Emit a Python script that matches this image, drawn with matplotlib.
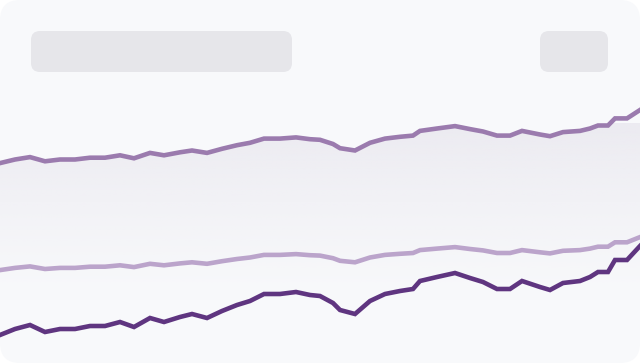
import numpy as np
import matplotlib
matplotlib.use("Agg")
import matplotlib.pyplot as plt
from matplotlib.patches import FancyBboxPatch
from matplotlib.colors import to_rgb

# sample days and the three series (skeleton sparkline)
days = [0, 15, 30, 45, 60, 75, 90, 105, 120, 134, 150, 164, 180, 192, 207, 222,
        237, 250, 264, 280, 296, 310, 320, 333, 340, 355, 370, 385, 400, 413, 420,
        437, 455, 470, 483, 497, 510, 522, 540, 550, 563, 580, 590, 598, 608, 615,
        627, 640]
upper = [199.9, 203.5, 205.9, 201.7, 203.5, 203.5, 205.3, 205.3, 207.7, 204.7,
         210.1, 207.7, 210.7, 212.5, 210.1, 214.2, 217.8, 220.2, 224.4, 224.4,
         225.6, 223.8, 223.2, 219.0, 214.8, 212.5, 220.2, 224.4, 226.2, 227.4,
         232.1, 234.5, 236.9, 233.9, 231.5, 227.4, 227.4, 232.1, 228.5, 226.8,
         230.9, 232.1, 234.5, 237.5, 237.5, 244.6, 244.6, 253.0]
middle = [92.9, 95.1, 96.6, 94.0, 95.1, 95.1, 96.3, 96.3, 97.7, 95.9, 99.2, 97.7,
          99.6, 100.7, 99.2, 101.8, 104.0, 105.5, 108.1, 108.1, 108.9, 107.8,
          107.4, 104.8, 102.2, 100.7, 105.5, 108.1, 109.2, 110.0, 112.9, 114.4,
          115.9, 114.0, 112.6, 110.0, 110.0, 112.9, 110.7, 109.6, 112.2, 112.9,
          114.4, 116.3, 116.3, 120.7, 120.7, 125.9]
lower = [28, 34, 38, 31, 34, 34, 37, 37, 41, 36, 45, 41, 46, 49, 45, 52, 58, 62,
         69, 69, 71, 68, 67, 60, 53, 49, 62, 69, 72, 74, 82, 86, 90, 85, 81, 74,
         74, 82, 76, 73, 80, 82, 86, 91, 91, 103, 103, 117]

W, H = 640, 363
fig = plt.figure(figsize=(W / 100, H / 100), dpi=100)
fig.patch.set_facecolor("white")

# card background with rounded corners (behind the axes)
card = FancyBboxPatch((0, 0), 1, 1, boxstyle=f"round,pad=0,rounding_size={20 / W}",
                      transform=fig.transFigure, facecolor="#F8F9FB",
                      edgecolor="none", mutation_aspect=W / H, zorder=-10)
fig.patches.append(card)

# header placeholders
for x0, x1 in [(31, 292), (540, 608)]:
    fig.patches.append(FancyBboxPatch(
        (x0 / W, 1 - 72 / H), (x1 - x0) / W, 41 / H,
        boxstyle=f"round,pad=0,rounding_size={9 / W}", mutation_aspect=W / H,
        transform=fig.transFigure, facecolor="#E6E6EA", edgecolor="none"))

ax = fig.add_axes([0, 0, 1, 1])
ax.set_xlim(0, W)
ax.set_ylim(0, H)
ax.axis("off")
ax.patch.set_alpha(0)

# soft gradient under the upper line
poly = ax.fill_between(days, upper, 0, color="none", lw=0)
grad = np.zeros((100, 2, 4))
grad[..., :3] = to_rgb("#ECEBF1")
grad[..., 3] = np.linspace(0, 1, 100)[:, None] ** 1.2
img = ax.imshow(grad, extent=[0, W, 60, 240], origin="lower", aspect="auto",
                zorder=1, interpolation="bilinear")
img.set_clip_path(poly.get_paths()[0], transform=ax.transData)

ax.plot(days, upper, color="#9B7BAE", lw=3.3, zorder=3, solid_joinstyle="miter")
ax.plot(days, middle, color="#BBA4CB", lw=3.3, zorder=3, solid_joinstyle="miter")
ax.plot(days, lower, color="#5F3580", lw=3.3, zorder=4, solid_joinstyle="miter")

fig.savefig("out.png", dpi=100, facecolor="white")
